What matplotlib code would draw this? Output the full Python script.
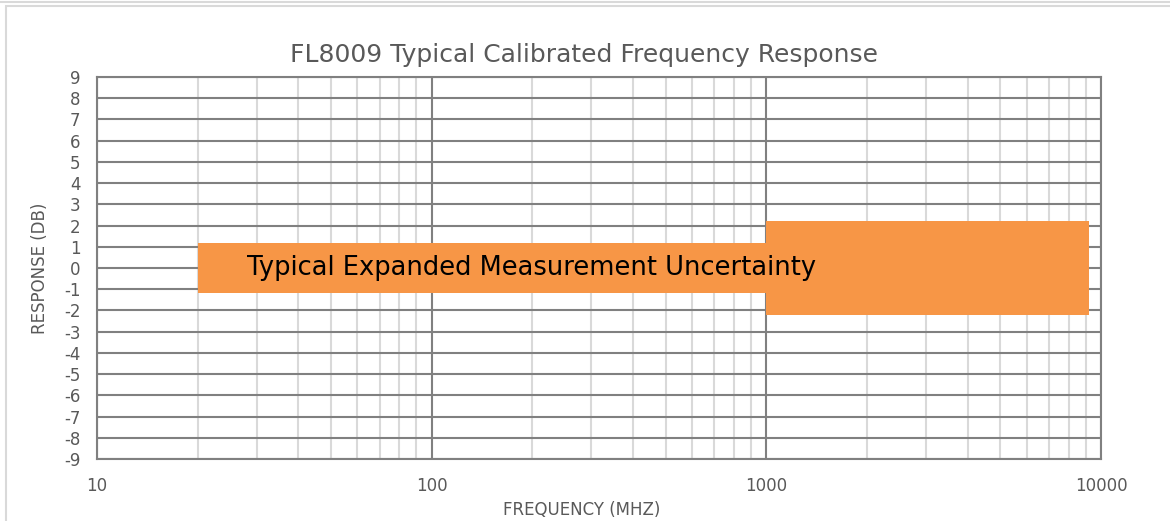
import matplotlib.pyplot as plt
import matplotlib.ticker as mticker
from matplotlib.patches import Rectangle

# uncertainty bands (MHz, +/- dB)
band_start = [20, 1000]
band_end = [1000, 9200]
band_half = [1.2, 2.2]

y_ticks = list(range(-9, 10))
x_ticks = [10, 100, 1000, 10000]

plt.rcParams['font.family'] = ['DejaVu Sans']
txt = '#595959'

fig = plt.figure(figsize=(11.7, 5.21), dpi=100)
fig.patches.append(Rectangle((6 / 1170, -0.01), 1.0, 1 - 6 / 521 + 0.01, transform=fig.transFigure,
                             fill=False, edgecolor='#d9d9d9', lw=1.5, zorder=0))
fig.patches.append(Rectangle((0, 1 - 2 / 521), 1.0, 0.0, transform=fig.transFigure,
                             fill=False, edgecolor='#d9d9d9', lw=1.5, zorder=0))

ax = fig.add_axes([97 / 1170, 1 - 459 / 521, (1101 - 97) / 1170, (459 - 77) / 521])
ax.set_xscale('log')
ax.set_xlim(10, 10000)
ax.set_ylim(-9, 9)

for s, e, h in zip(band_start, band_end, band_half):
    ax.fill_between([s, e], [-h, -h], [h, h], color='#F79646', lw=0, zorder=3)

ax.text(28, 0, 'Typical Expanded Measurement Uncertainty', fontsize=18.5,
        color='black', va='center', ha='left', zorder=4)

ax.set_yticks(y_ticks)
ax.yaxis.set_major_formatter(mticker.FuncFormatter(lambda v, p: '%d' % v))
ax.set_xticks(x_ticks)
ax.xaxis.set_major_formatter(mticker.FuncFormatter(lambda v, p: '%d' % v))
ax.xaxis.set_minor_locator(mticker.LogLocator(base=10, subs=range(2, 10)))
ax.xaxis.set_minor_formatter(mticker.NullFormatter())

ax.grid(which='major', axis='both', color='#808080', lw=1.5, zorder=1)
ax.grid(which='minor', axis='x', color='#d9d9d9', lw=1.5, zorder=0)
ax.set_axisbelow(True)

for sp in ax.spines.values():
    sp.set_color('#808080')
    sp.set_linewidth(1.5)

ax.tick_params(which='both', length=0)
ax.tick_params(axis='y', labelsize=12, colors=txt, pad=12)
ax.tick_params(axis='x', labelsize=12, colors=txt, pad=13)

ax.set_title('FL8009 Typical Calibrated Frequency Response', fontsize=18, color=txt,
             pad=11, x=0.485)
ax.set_xlabel('FREQUENCY (MHZ)', fontsize=12, color=txt, labelpad=4, x=0.483)
ax.set_ylabel('RESPONSE (DB)', fontsize=12, color=txt, labelpad=11)

fig.savefig('out.png', dpi=100)
